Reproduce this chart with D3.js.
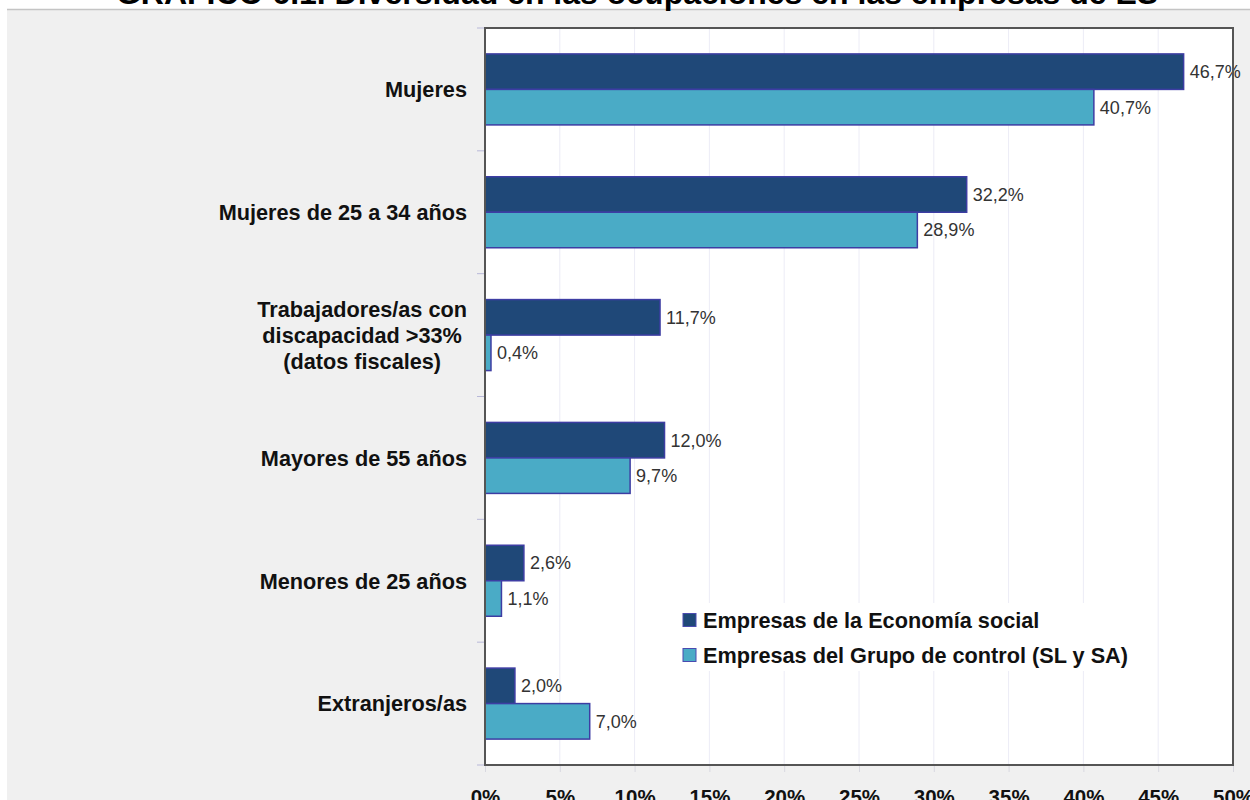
<!DOCTYPE html>
<html>
<head>
<meta charset="utf-8">
<script src="https://cdn.jsdelivr.net/npm/d3@7"></script>
<style>
  html, body { margin: 0; padding: 0; background: #ffffff; }
  svg { display: block; }
</style>
</head>
<body>
<svg id="chart" width="1250" height="800"></svg>
<script>
// ---- Data ----
const categories = [
  "Mujeres",
  "Mujeres de 25 a 34 años",
  "Trabajadores/as con\ndiscapacidad >33%\n(datos fiscales)",
  "Mayores de 55 años",
  "Menores de 25 años",
  "Extranjeros/as"
];
const seriesNames = [
  "Empresas de la Economía social",
  "Empresas del Grupo de control (SL y SA)"
];
const economiaSocial = [46.7, 32.2, 11.7, 12.0, 2.6, 2.0];
const grupoControl   = [40.7, 28.9, 0.4, 9.7, 1.1, 7.0];
const xTicks = [0, 5, 10, 15, 20, 25, 30, 35, 40, 45, 50];
const titleText = "GRÁFICO 6.1. Diversidad en las ocupaciones en las empresas de ES";

const seriesColors = ["#1f4878", "#4aabc6"];
const barStroke = "#3d3da3";

const svg = d3.select("#chart");
const W = 1250, H = 800;
const plot = { left: 485, right: 1233, top: 28, bottom: 765 };

// background panel
svg.append("rect").attr("x", 0).attr("y", 0).attr("width", W).attr("height", H).attr("fill", "#ffffff");
svg.append("rect").attr("x", 7).attr("y", 9).attr("width", W - 7).attr("height", H - 9).attr("fill", "#f0f0f0");
svg.append("line").attr("x1", 7).attr("x2", W).attr("y1", 9.5).attr("y2", 9.5).attr("stroke", "#c4c4c4").attr("stroke-width", 1.5);

// title (cut off at top)
svg.append("text")
  .attr("x", 637).attr("y", 4)
  .attr("text-anchor", "middle")
  .attr("font-family", "Liberation Sans, Arial, sans-serif")
  .attr("font-weight", "bold")
  .attr("font-size", 32)
  .attr("fill", "#000")
  .text(titleText);

// scales
const x = d3.scaleLinear().domain([0, 50]).range([plot.left, plot.right]);
const y0 = d3.scaleBand().domain(d3.range(categories.length)).range([plot.top, plot.bottom]).padding(0);
const y1 = d3.scaleBand().domain([0, 1]).range([0, y0.bandwidth()]).paddingInner(0).paddingOuter(0.73);

// plot background
svg.append("rect")
  .attr("x", plot.left).attr("y", plot.top)
  .attr("width", plot.right - plot.left).attr("height", plot.bottom - plot.top)
  .attr("fill", "#ffffff");

// gridlines
svg.append("g").selectAll("line").data(xTicks.slice(1, -1)).join("line")
  .attr("x1", d => x(d)).attr("x2", d => x(d))
  .attr("y1", plot.top).attr("y2", plot.bottom)
  .attr("stroke", "#ececf6").attr("stroke-width", 1);

// bottom tick marks + labels
const xAxis = d3.axisBottom(x).tickValues(xTicks).tickFormat(d => d + "%").tickSize(7).tickPadding(14);
const gx = svg.append("g").attr("transform", `translate(0,${plot.bottom})`).call(xAxis);
gx.select(".domain").remove();
gx.selectAll(".tick line").attr("stroke", "#d8d8e0");
gx.selectAll(".tick text")
  .attr("font-family", "Liberation Sans, Arial, sans-serif")
  .attr("font-weight", "bold")
  .attr("font-size", 20.5)
  .attr("fill", "#111")
  .attr("dy", "0.9em");

// left tick marks at category boundaries
const boundaries = d3.range(categories.length + 1).map(i => i < categories.length ? y0(i) : plot.bottom);
svg.append("g").selectAll("line").data(boundaries).join("line")
  .attr("x1", plot.left - 8).attr("x2", plot.left)
  .attr("y1", d => d).attr("y2", d => d)
  .attr("stroke", "#b8b8d8").attr("stroke-width", 1);

// legend background (masks gridlines)
svg.append("rect").attr("x", 674).attr("y", 603).attr("width", 470).attr("height", 68).attr("fill", "#ffffff");

// bars
const seriesData = [economiaSocial, grupoControl];
const rows = [];
categories.forEach((c, i) => {
  seriesData.forEach((s, j) => rows.push({ cat: i, ser: j, value: s[i] }));
});

const barG = svg.append("g");
barG.selectAll("rect").data(rows).join("rect")
  .attr("x", x(0))
  .attr("y", d => y0(d.cat) + y1(d.ser))
  .attr("width", d => x(d.value) - x(0))
  .attr("height", y1.bandwidth())
  .attr("fill", d => seriesColors[d.ser])
  .attr("stroke", barStroke)
  .attr("stroke-width", 1.5);

// value labels
const fmt = v => v.toFixed(1).replace(".", ",") + "%";
barG.selectAll("text").data(rows).join("text")
  .attr("x", d => x(d.value) + 6)
  .attr("y", d => y0(d.cat) + y1(d.ser) + y1.bandwidth() / 2)
  .attr("dy", "0.36em")
  .attr("font-family", "Liberation Sans, Arial, sans-serif")
  .attr("font-size", 18)
  .attr("fill", "#333")
  .text(d => fmt(d.value));

// plot border
svg.append("rect")
  .attr("x", plot.left).attr("y", plot.top)
  .attr("width", plot.right - plot.left).attr("height", plot.bottom - plot.top)
  .attr("fill", "none").attr("stroke", "#555").attr("stroke-width", 2);

// category labels
const labelRight = 467;
const catG = svg.append("g");
categories.forEach((c, i) => {
  const lines = c.split("\n");
  const cy = y0(i) + y0.bandwidth() / 2;
  const t = catG.append("text")
    .attr("font-family", "Liberation Sans, Arial, sans-serif")
    .attr("font-weight", "bold")
    .attr("font-size", 21.7)
    .attr("fill", "#111");
  const lh = 26;
  lines.forEach((ln, k) => {
    t.append("tspan")
      .attr("y", cy + (k - (lines.length - 1) / 2) * lh)
      .attr("dy", "0.36em")
      .text(ln);
  });
  if (lines.length === 1) {
    t.attr("text-anchor", "end").selectAll("tspan").attr("x", labelRight);
  } else {
    let maxW = 0;
    t.selectAll("tspan").each(function () { maxW = Math.max(maxW, this.getComputedTextLength()); });
    t.attr("text-anchor", "middle").selectAll("tspan").attr("x", labelRight - maxW / 2);
  }
});

// legend
const legend = svg.append("g");
seriesNames.forEach((n, j) => {
  const cy = 620 + j * 35;
  legend.append("rect")
    .attr("x", 683).attr("y", cy - 6.5).attr("width", 13).attr("height", 13)
    .attr("fill", seriesColors[j]).attr("stroke", "#4a4ab0").attr("stroke-width", 1);
  legend.append("text")
    .attr("x", 703).attr("y", cy).attr("dy", "0.36em")
    .attr("font-family", "Liberation Sans, Arial, sans-serif")
    .attr("font-weight", "bold")
    .attr("font-size", 21.7)
    .attr("fill", "#111")
    .text(n);
});
</script>
</body>
</html>
